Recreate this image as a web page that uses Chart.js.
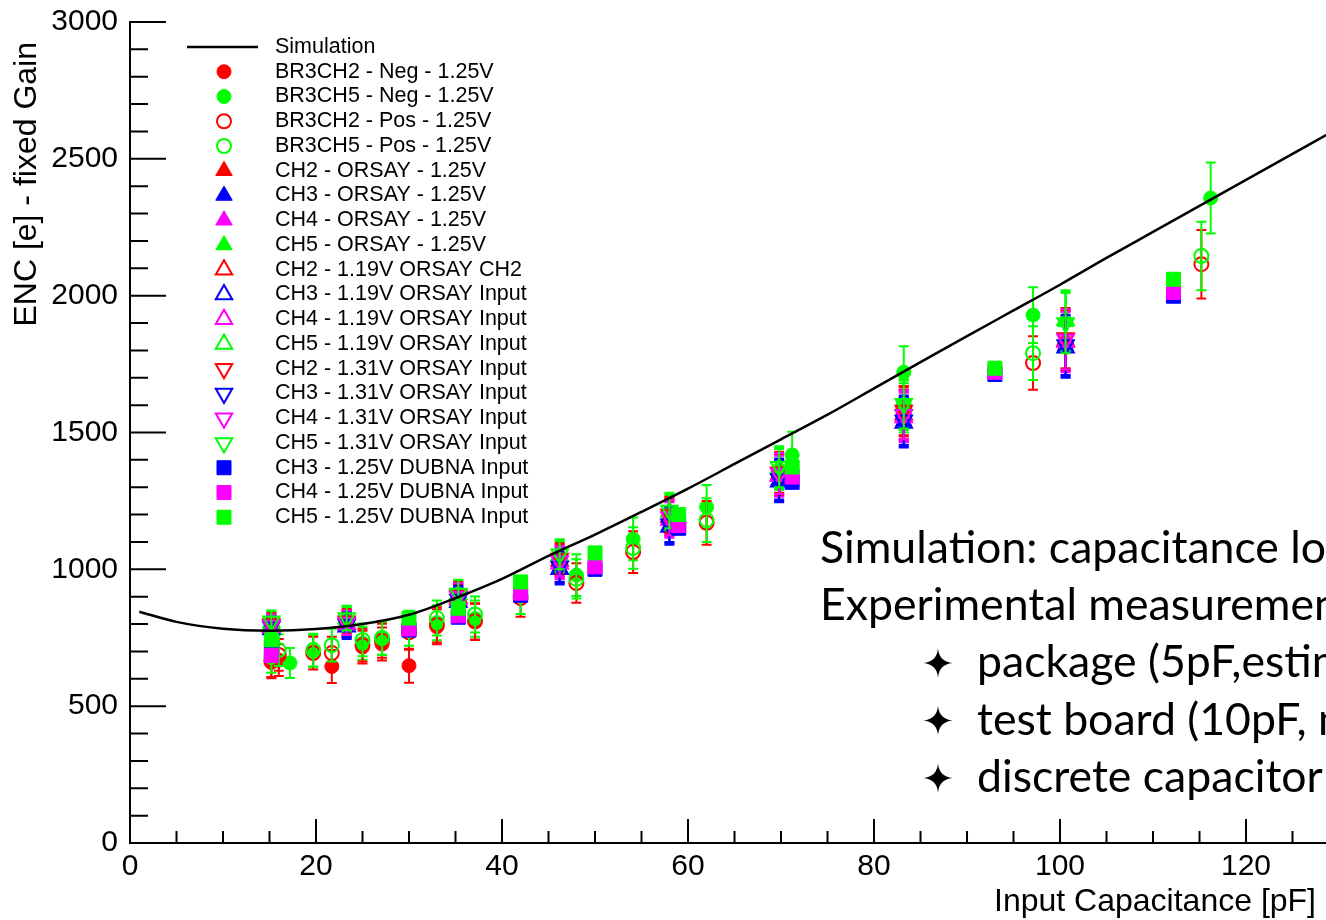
<!DOCTYPE html>
<html>
<head>
<meta charset="utf-8">
<script src="https://cdn.jsdelivr.net/npm/chart.js@4/dist/chart.umd.min.js"></script>
<style>
  html, body { margin: 0; padding: 0; background: #fff; }
  canvas { display: block; }
</style>
</head>
<body>
<canvas id="enc" width="1326" height="920"></canvas>
<script>
// tick labels
const xTickValues = [0, 20, 40, 60, 80, 100, 120];
const yTickValues = [0, 500, 1000, 1500, 2000, 2500, 3000];

// simulation curve
const simX = [1, 5, 10, 15, 20, 25, 30, 35, 40, 45, 50, 55, 60, 65, 70, 75, 80, 85, 90, 95, 100, 105, 110, 115, 120, 125, 130];
const simY = [845, 808, 783, 776, 782, 800, 834, 895, 965, 1049, 1127, 1210, 1295, 1385, 1475, 1565, 1661, 1757, 1852, 1946, 2040, 2138, 2233, 2328, 2423, 2518, 2613];

// BR3 board, negative polarity
const br3ch2NegX = [15.2, 16.0, 21.7, 25.0, 27.1, 30.0, 33.0, 37.1];
const br3ch2NegY = [660, 668, 645, 716, 727, 648, 790, 808];
const br3ch2NegErr = [58, 58, 60, 60, 60, 62, 64, 66];
const br3ch5NegX = [17.2, 19.7, 25.0, 27.1, 33.0, 37.1, 48.0, 54.1, 62.0, 71.2, 83.2, 97.1, 116.2];
const br3ch5NegY = [658, 700, 730, 748, 805, 820, 979, 1111, 1228, 1418, 1720, 1929, 2357];
const br3ch5NegErr = [55, 58, 60, 60, 64, 66, 76, 78, 80, 85, 95, 102, 130];

// BR3 board, positive polarity
const br3PosX = [15.2, 16.0, 19.7, 21.7, 25.0, 27.1, 30.0, 33.0, 37.1, 42.0, 48.0, 54.1, 62.0, 83.2, 97.1, 115.2];
const br3ch2PosY = [665, 687, 694, 694, 723, 739, 770, 797, 810, 895, 950, 1063, 1170, 1565, 1754, 2115];
const br3ch5PosY = [680, 705, 705, 723, 742, 749, 785, 822, 835, 905, 965, 1078, 1180, 1600, 1790, 2145];
const br3PosErr = [58, 58, 60, 60, 60, 62, 64, 64, 66, 68, 72, 76, 80, 92, 98, 125];

// ORSAY measurements
const orsayX = [15.2, 23.3, 35.3, 46.2, 58.0, 69.8, 83.2, 100.6];
const orsayErr = [40, 45, 50, 55, 65, 75, 90, 110];
const ch2Orsay125 = [795, 805, 900, 1035, 1195, 1350, 1575, 1840];
const ch3Orsay125 = [785, 795, 885, 1005, 1160, 1325, 1540, 1815];
const ch4Orsay125 = [790, 800, 895, 1025, 1185, 1345, 1560, 1835];
const ch5Orsay125 = [800, 815, 905, 1045, 1205, 1365, 1590, 1905];
const ch2Orsay119 = [790, 800, 895, 1030, 1190, 1345, 1565, 1835];
const ch3Orsay119 = [780, 790, 880, 1000, 1155, 1320, 1535, 1810];
const ch4Orsay119 = [788, 798, 890, 1020, 1180, 1340, 1555, 1830];
const ch5Orsay119 = [805, 820, 910, 1050, 1210, 1370, 1600, 1910];
const ch2Orsay131 = [800, 810, 905, 1040, 1200, 1355, 1580, 1845];
const ch3Orsay131 = [790, 798, 890, 1010, 1165, 1330, 1545, 1820];
const ch4Orsay131 = [795, 805, 900, 1030, 1190, 1350, 1565, 1840];
const ch5Orsay131 = [810, 822, 912, 1055, 1215, 1375, 1605, 1900];

// DUBNA measurements
const dubnaX = [15.2, 30.0, 35.3, 42.0, 50.0, 59.0, 71.2, 93.0, 112.2];
const ch3Dubna = [712, 778, 825, 905, 1000, 1150, 1318, 1712, 1998];
const ch4Dubna = [685, 782, 830, 913, 1009, 1160, 1337, 1720, 2012];
const ch5Dubna = [742, 822, 858, 954, 1060, 1200, 1374, 1735, 2060];

const RED = '#ff0000', GREEN = '#00ff00', BLUE = '#0000ff', MAGENTA = '#ff00ff';
const SANS = '"Liberation Sans", Arial, sans-serif';

const series = [
  {label: 'BR3CH2 - Neg - 1.25V', xs: br3ch2NegX, ys: br3ch2NegY, err: br3ch2NegErr, color: RED, shape: 'circle', open: false},
  {label: 'BR3CH5 - Neg - 1.25V', xs: br3ch5NegX, ys: br3ch5NegY, err: br3ch5NegErr, color: GREEN, shape: 'circle', open: false},
  {label: 'BR3CH2 - Pos - 1.25V', xs: br3PosX, ys: br3ch2PosY, err: br3PosErr, color: RED, shape: 'circle', open: true},
  {label: 'BR3CH5 - Pos - 1.25V', xs: br3PosX, ys: br3ch5PosY, err: br3PosErr, color: GREEN, shape: 'circle', open: true},
  {label: 'CH2 - ORSAY - 1.25V', xs: orsayX, ys: ch2Orsay125, err: orsayErr, color: RED, shape: 'triangle', open: false},
  {label: 'CH3 - ORSAY - 1.25V', xs: orsayX, ys: ch3Orsay125, err: orsayErr, color: BLUE, shape: 'triangle', open: false},
  {label: 'CH4 - ORSAY - 1.25V', xs: orsayX, ys: ch4Orsay125, err: orsayErr, color: MAGENTA, shape: 'triangle', open: false},
  {label: 'CH5 - ORSAY - 1.25V', xs: orsayX, ys: ch5Orsay125, err: orsayErr, color: GREEN, shape: 'triangle', open: false},
  {label: 'CH2 - 1.19V ORSAY CH2', xs: orsayX, ys: ch2Orsay119, err: orsayErr, color: RED, shape: 'triangle', open: true},
  {label: 'CH3 - 1.19V ORSAY Input', xs: orsayX, ys: ch3Orsay119, err: orsayErr, color: BLUE, shape: 'triangle', open: true},
  {label: 'CH4 - 1.19V ORSAY Input', xs: orsayX, ys: ch4Orsay119, err: orsayErr, color: MAGENTA, shape: 'triangle', open: true},
  {label: 'CH5 - 1.19V ORSAY Input', xs: orsayX, ys: ch5Orsay119, err: orsayErr, color: GREEN, shape: 'triangle', open: true},
  {label: 'CH2 - 1.31V ORSAY Input', xs: orsayX, ys: ch2Orsay131, err: orsayErr, color: RED, shape: 'triangle', open: true, down: true},
  {label: 'CH3 - 1.31V ORSAY Input', xs: orsayX, ys: ch3Orsay131, err: orsayErr, color: BLUE, shape: 'triangle', open: true, down: true},
  {label: 'CH4 - 1.31V ORSAY Input', xs: orsayX, ys: ch4Orsay131, err: orsayErr, color: MAGENTA, shape: 'triangle', open: true, down: true},
  {label: 'CH5 - 1.31V ORSAY Input', xs: orsayX, ys: ch5Orsay131, err: orsayErr, color: GREEN, shape: 'triangle', open: true, down: true},
  {label: 'CH3 - 1.25V DUBNA Input', xs: dubnaX, ys: ch3Dubna, err: null, color: BLUE, shape: 'rect', open: false},
  {label: 'CH4 - 1.25V DUBNA Input', xs: dubnaX, ys: ch4Dubna, err: null, color: MAGENTA, shape: 'rect', open: false},
  {label: 'CH5 - 1.25V DUBNA Input', xs: dubnaX, ys: ch5Dubna, err: null, color: GREEN, shape: 'rect', open: false}
];

const radiusFor = {circle: 7, triangle: 9.5, rect: 9.9};

const datasets = [{
  label: 'Simulation',
  data: simX.map((x, i) => ({x: x, y: simY[i]})),
  showLine: true,
  borderColor: '#000',
  borderWidth: 2.5,
  pointRadius: 0,
  cubicInterpolationMode: 'monotone',
  order: 0
}];
series.forEach((s, i) => {
  datasets.push({
    label: s.label,
    data: s.xs.map((x, j) => ({x: x, y: s.ys[j]})),
    errors: s.err,
    borderColor: s.color,
    pointStyle: s.shape,
    pointRotation: s.down ? 180 : 0,
    pointRadius: radiusFor[s.shape],
    pointBackgroundColor: s.open ? 'rgba(0,0,0,0)' : s.color,
    pointBorderColor: s.color,
    pointBorderWidth: s.open ? 2 : 1,
    showLine: false,
    order: 100 - i
  });
});

const errorBars = {
  id: 'errorBars',
  beforeDatasetDraw(chart, args) {
    const ds = chart.data.datasets[args.index];
    if (!ds.errors) return;
    const {ctx, chartArea: a, scales: {x, y}} = chart;
    ctx.save();
    ctx.beginPath();
    ctx.rect(a.left, a.top, a.right - a.left, a.bottom - a.top);
    ctx.clip();
    ctx.strokeStyle = ds.borderColor;
    ctx.lineWidth = 2;
    ctx.beginPath();
    ds.data.forEach((p, i) => {
      const e = ds.errors[i];
      const px = x.getPixelForValue(p.x);
      const top = y.getPixelForValue(p.y + e);
      const bot = y.getPixelForValue(p.y - e);
      ctx.moveTo(px, top); ctx.lineTo(px, bot);
      ctx.moveTo(px - 5, top); ctx.lineTo(px + 5, top);
      ctx.moveTo(px - 5, bot); ctx.lineTo(px + 5, bot);
    });
    ctx.stroke();
    ctx.restore();
  }
};

// inward ROOT-style ticks and their labels
const axisTicks = {
  id: 'axisTicks',
  afterDatasetsDraw(chart) {
    const {ctx, chartArea: a, scales: {x, y}} = chart;
    ctx.save();
    ctx.strokeStyle = '#000';
    ctx.lineWidth = 2;
    ctx.beginPath();
    for (let v = 0; v <= x.max; v += 5) {
      const px = x.getPixelForValue(v);
      const len = v % 20 === 0 ? 24 : 12;
      ctx.moveTo(px, a.bottom); ctx.lineTo(px, a.bottom - len);
    }
    for (let v = 0; v <= y.max; v += 100) {
      const py = y.getPixelForValue(v);
      const len = v % 500 === 0 ? 36 : 18;
      ctx.moveTo(a.left, py); ctx.lineTo(a.left + len, py);
    }
    ctx.stroke();

    ctx.fillStyle = '#000';
    ctx.font = '30px ' + SANS;
    ctx.textBaseline = 'middle';
    ctx.textAlign = 'center';
    xTickValues.forEach(v => ctx.fillText(String(v), x.getPixelForValue(v), a.bottom + 24));
    ctx.textAlign = 'right';
    yTickValues.forEach(v => ctx.fillText(String(v), a.left - 12, y.getPixelForValue(v)));
    ctx.restore();
  }
};

function drawStar(ctx, cx, cy, r) {
  const k = r * 0.22;
  ctx.beginPath();
  ctx.moveTo(cx, cy - r);
  ctx.quadraticCurveTo(cx + k * 0.4, cy - k * 0.4, cx + r, cy);
  ctx.quadraticCurveTo(cx + k * 0.4, cy + k * 0.4, cx, cy + r);
  ctx.quadraticCurveTo(cx - k * 0.4, cy + k * 0.4, cx - r, cy);
  ctx.quadraticCurveTo(cx - k * 0.4, cy - k * 0.4, cx, cy - r);
  ctx.closePath();
  ctx.fill();
}

const decorations = {
  id: 'decorations',
  afterDraw(chart) {
    const ctx = chart.ctx;
    ctx.save();
    ctx.fillStyle = '#000';

    // axis titles
    ctx.font = '32px ' + SANS;
    ctx.textBaseline = 'middle';
    ctx.textAlign = 'right';
    ctx.fillText('Input Capacitance [pF]', 1316, 902);
    ctx.save();
    ctx.translate(27, 42);
    ctx.rotate(-Math.PI / 2);
    ctx.fillText('ENC [e] - fixed Gain', 0, 0);
    ctx.restore();

    // legend
    const rowY = i => 47 + 24.75 * i;
    ctx.strokeStyle = '#000';
    ctx.lineWidth = 2.5;
    ctx.beginPath();
    ctx.moveTo(187, rowY(0)); ctx.lineTo(258, rowY(0));
    ctx.stroke();
    ctx.font = '21.5px ' + SANS;
    ctx.textAlign = 'left';
    ctx.fillText(chart.data.datasets[0].label, 275, rowY(0));
    series.forEach((s, i) => {
      const y = rowY(i + 1);
      ctx.fillStyle = s.open ? 'rgba(0,0,0,0)' : s.color;
      ctx.strokeStyle = s.color;
      ctx.lineWidth = s.open ? 2 : 1;
      Chart.helpers.drawPoint(ctx, {
        pointStyle: s.shape,
        rotation: s.down ? 180 : 0,
        radius: radiusFor[s.shape],
        borderWidth: ctx.lineWidth
      }, 224, y);
      ctx.fillStyle = '#000';
      ctx.fillText(s.label, 275, y);
    });

    // annotation text
    ctx.font = '100px Lato, "Open Sans", sans-serif';
    const w = ctx.measureText('Simulation: capacitance lo').width;
    const size = 100 * 506 / w;
    const font = size.toFixed(1) + 'px Lato, "Open Sans", sans-serif';
    ctx.font = font;
    ctx.fillStyle = '#000';
    ctx.textAlign = 'left';
    ctx.fillText('Simulation: capacitance load', 820, 549);
    ctx.fillText('Experimental measurements', 820, 606);
    const bullets = ['package (5pF,estimated)', 'test board (10pF, measured)', 'discrete capacitor'];
    bullets.forEach((t, i) => {
      const y = 663 + 57.5 * i;
      drawStar(ctx, 938, y, 14.5);
      ctx.fillText(t, 977, y);
    });
    ctx.restore();
  }
};

new Chart(document.getElementById('enc'), {
  type: 'scatter',
  data: {datasets: datasets},
  options: {
    responsive: false,
    animation: false,
    devicePixelRatio: 1,
    layout: {autoPadding: false, padding: {top: 22, right: 0, left: 0, bottom: 0}},
    plugins: {legend: {display: false}, tooltip: {enabled: false}},
    scales: {
      x: {
        type: 'linear',
        min: 0,
        max: 128.6,
        afterFit: s => { s.height = 77; },
        afterBuildTicks: s => { s.ticks = xTickValues.map(v => ({value: v})); },
        grid: {display: false, drawTicks: false},
        border: {display: true, color: '#000', width: 2},
        ticks: {display: false}
      },
      y: {
        type: 'linear',
        min: 0,
        max: 3000,
        afterFit: s => { s.width = 130; },
        afterBuildTicks: s => { s.ticks = yTickValues.map(v => ({value: v})); },
        grid: {display: false, drawTicks: false},
        border: {display: true, color: '#000', width: 2},
        ticks: {display: false}
      }
    }
  },
  plugins: [errorBars, axisTicks, decorations]
});
</script>
</body>
</html>
